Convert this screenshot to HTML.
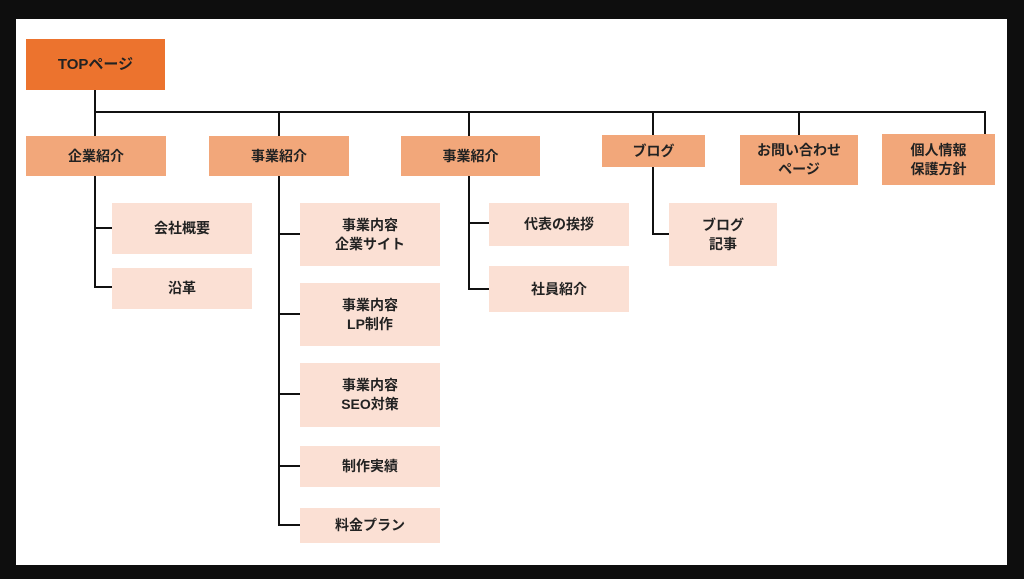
<!DOCTYPE html>
<html><head><meta charset="utf-8"><style>
body{margin:0;width:1024px;height:579px;background:#0e0e0e;position:relative;overflow:hidden;font-family:"Liberation Sans","Noto Sans CJK JP",sans-serif}
#w{position:absolute;left:16px;top:19px;width:991px;height:546px;background:#fff}
.b{position:absolute;display:flex;align-items:center;justify-content:center;text-align:center;font-weight:bold;font-size:14px;line-height:19px;color:#222;box-sizing:border-box}
.o{background:#ec732e;font-size:15px}
.m{background:#f2a77a}
.l{background:#fbe0d4}
.h,.v{position:absolute;background:#111}
.h{height:2px}.v{width:2px}
</style></head><body>
<div id="w"></div>
<div class="b o" style="left:26px;top:39px;width:139px;height:51px">TOPページ</div>
<div class="v" style="left:94px;top:90px;height:23px"></div>
<div class="h" style="left:94px;top:111px;width:892px"></div>
<div class="v" style="left:278px;top:111px;height:25px"></div>
<div class="v" style="left:468px;top:111px;height:25px"></div>
<div class="v" style="left:652px;top:111px;height:24px"></div>
<div class="v" style="left:798px;top:111px;height:24px"></div>
<div class="v" style="left:984px;top:111px;height:23px"></div>
<div class="v" style="left:94px;top:111px;height:25px"></div>
<div class="b m" style="left:26px;top:136px;width:140px;height:40px">企業紹介</div>
<div class="b m" style="left:209px;top:136px;width:140px;height:40px">事業紹介</div>
<div class="b m" style="left:401px;top:136px;width:139px;height:40px">事業紹介</div>
<div class="b m" style="left:602px;top:135px;width:103px;height:32px">ブログ</div>
<div class="b m" style="left:740px;top:135px;width:118px;height:50px">お問い合わせ<br>ページ</div>
<div class="b m" style="left:882px;top:134px;width:113px;height:51px">個人情報<br>保護方針</div>
<div class="v" style="left:94px;top:176px;height:112px"></div>
<div class="h" style="left:94px;top:227px;width:18px"></div>
<div class="h" style="left:94px;top:286px;width:18px"></div>
<div class="b l" style="left:112px;top:203px;width:140px;height:51px">会社概要</div>
<div class="b l" style="left:112px;top:268px;width:140px;height:41px">沿革</div>
<div class="v" style="left:278px;top:176px;height:350px"></div>
<div class="h" style="left:278px;top:233px;width:22px"></div>
<div class="h" style="left:278px;top:313px;width:22px"></div>
<div class="h" style="left:278px;top:393px;width:22px"></div>
<div class="h" style="left:278px;top:465px;width:22px"></div>
<div class="h" style="left:278px;top:524px;width:22px"></div>
<div class="b l" style="left:300px;top:203px;width:140px;height:63px">事業内容<br>企業サイト</div>
<div class="b l" style="left:300px;top:283px;width:140px;height:63px">事業内容<br>LP制作</div>
<div class="b l" style="left:300px;top:363px;width:140px;height:64px">事業内容<br>SEO対策</div>
<div class="b l" style="left:300px;top:446px;width:140px;height:41px">制作実績</div>
<div class="b l" style="left:300px;top:508px;width:140px;height:35px">料金プラン</div>
<div class="v" style="left:468px;top:176px;height:114px"></div>
<div class="h" style="left:468px;top:222px;width:21px"></div>
<div class="h" style="left:468px;top:288px;width:21px"></div>
<div class="b l" style="left:489px;top:203px;width:140px;height:43px">代表の挨拶</div>
<div class="b l" style="left:489px;top:266px;width:140px;height:46px">社員紹介</div>
<div class="v" style="left:652px;top:167px;height:68px"></div>
<div class="h" style="left:652px;top:233px;width:17px"></div>
<div class="b l" style="left:669px;top:203px;width:108px;height:63px">ブログ<br>記事</div>
</body></html>
